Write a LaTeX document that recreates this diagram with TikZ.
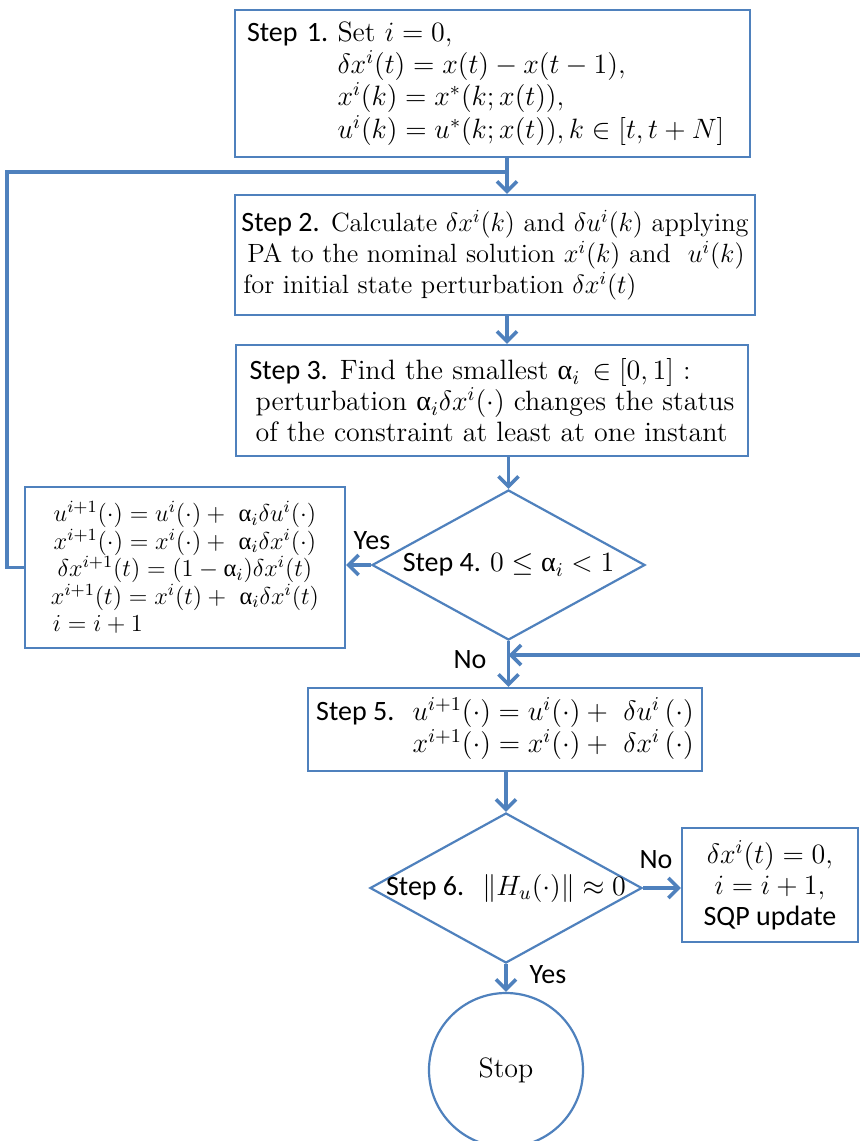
\RequirePackage{fix-cm}
\documentclass[tikz,border=0pt]{standalone}
\usepackage{fontspec}
\usetikzlibrary{arrows.meta,shapes.geometric,calc}
\newfontfamily\stepf{Carlito}
\newfontfamily\grkfont{Liberation Serif}
\newcommand\ua{\mbox{\grkfont α}}
\newcommand\tightls{\lineskiplimit=-20pt\relax\lineskip=0pt\relax}
\definecolor{fblue}{RGB}{79,129,189}
\tikzset{
  box/.style={draw=fblue, line width=1.1pt, inner sep=0pt, align=left,
    font=\fontsize{14}{15.5}\selectfont},
  dia/.style={diamond, draw=fblue, line width=1.1pt, inner sep=0pt},
  conn/.style={draw=fblue, line width=1.8pt, -{Straight Barb[length=5pt,width=10pt]}},
  connline/.style={draw=fblue, line width=1.8pt},
  lbl/.style={font=\stepf\fontsize{14}{15}\selectfont, inner sep=0pt},
  txt/.style={font=\fontsize{14}{15}\selectfont, inner sep=0pt, align=center},
}
\begin{document}
\begin{tikzpicture}[x=0.5pt,y=-0.5pt]
\useasboundingbox (0,0) rectangle (859,1141);
\fill[white] (0,0) rectangle (859,1141);
\coordinate (ax) at (507,0);
% Step 1
\node[box, minimum width=257.5pt, minimum height=73.5pt, inner xsep=6pt, text width=245.5pt] (s1) at (492.5,83.5)
 {\begin{tabular}{@{}l@{\ }l@{}}{\stepf Step 1.} & Set $i=0,$\\
   & $\delta x^i(t)=x(t)-x(t-1),$\\
   & $x^i(k)=x^*(k;x(t)),$\\
   & $u^i(k)=u^*(k;x(t)),k\in[t,t+N]$\end{tabular}};
% Step 2
\node[box, minimum width=260pt, minimum height=60pt,
  font=\fontsize{13.2}{15.5}\selectfont] (s2) at (495,255)
 {{\stepf\fontsize{14}{15}\selectfont Step 2.} Calculate $\delta x^i(k)$ and $\delta u^i(k)$ applying\\
  \hspace*{3pt}PA to the nominal solution $x^i(k)$ and \ $u^i(k)$\\
  \hspace*{1pt}for initial state perturbation $\delta x^i(t)$};
% Step 3
\node[box, minimum width=256pt, minimum height=55.5pt] (s3) at (492,400.5)
 {{\stepf Step 3.} Find the smallest $\ua_i\,\in[0,1]$ :\\
  \hspace*{3pt}perturbation $\ua_i\delta x^i(\cdot)$ changes the status\\
  \hspace*{3pt}of the constraint at least at one instant};
% left update box
\node[box, align=center, minimum width=160pt, minimum height=80.5pt,
  font=\fontsize{12.2}{13.8}\selectfont\tightls] (L) at (185,567.5)
 {$u^{i+1}(\cdot)=u^i(\cdot)+\ \ua_i\delta u^i(\cdot)$\\
  $x^{i+1}(\cdot)=x^i(\cdot)+\ \ua_i\delta x^i(\cdot)$\\
  $\delta x^{i+1}(t)=(1-\ua_i)\delta x^i(t)$\\
  $x^{i+1}(t)=x^i(t)+\ \ua_i\delta x^i(t)$\\
  \makebox[132pt][l]{$i=i+1$}};
% Step 4 diamond
\node[dia, minimum width=136.5pt, minimum height=75pt] (d4) at (508.5,565) {};
\node[txt] (t4) at (d4) {{\stepf Step 4.}\ $0\le\ua_i<1$};
% Step 5
\node[box, minimum width=197pt, minimum height=41.5pt] (s5) at (505,729.5)
 {\begin{tabular}{@{}l@{\ \ }r@{}}{\stepf Step 5.} & $u^{i+1}(\cdot)=u^i(\cdot)+\ \delta u^i\,(\cdot)$\\
   & $x^{i+1}(\cdot)=x^i(\cdot)+\ \delta x^i\,(\cdot)$\end{tabular}};
% Step 6 diamond
\node[dia, minimum width=136pt, minimum height=75pt] (d6) at (506,888) {};
\node[txt] (t6) at (d6) {{\stepf Step 6.}\ \ $\|H_u(\cdot)\|\approx 0$};
% SQP box
\node[box, align=center, minimum width=88pt, minimum height=57pt] (sqp) at (770,885)
 {$\delta x^i(t)=0,$\\ $i=i+1,$\\ {\stepf SQP update}};
% Stop
\node[circle, draw=fblue, line width=1.1pt, minimum size=77pt, inner sep=0pt,
  font=\fontsize{14}{15}\selectfont] (stop) at (506,1070) {Stop};
% connectors
\coordinate (j) at (507,172);
\coordinate (rin) at (862,655);
\draw[connline] (L.west) -- ++(-17,0) |- (j);
\draw[conn] (s1.south -| ax) -- (s2.north -| ax);
\draw[conn] (s2.south -| ax) -- (s3.north -| ax);
\draw[conn] (s3.south -| d4.north) -- (d4.north);
\draw[conn] (d4.west) -- (L.east |- d4.west);
\draw[conn] (d4.south) -- (s5.north -| d4.south);
\draw[conn] (rin) -- (d4.south |- rin);
\draw[conn] (s5.south -| d6.north) -- (d6.north);
\draw[conn] (d6.east) -- (sqp.west |- d6.east);
\draw[conn] (d6.south) -- (stop.north);
% labels
\node[lbl] (y4) at (372,541) {Yes};
\node[lbl] (n4) at (470,660) {No};
\node[lbl] (n6) at (656,860) {No};
\node[lbl] (y6) at (548,975) {Yes};
\end{tikzpicture}
\end{document}
